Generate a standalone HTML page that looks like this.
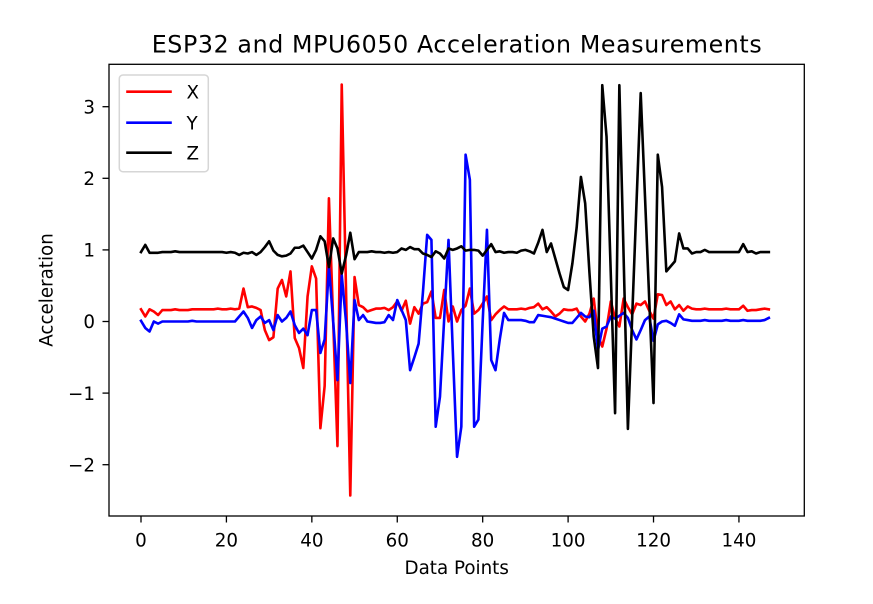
<!DOCTYPE html>
<html>
<head>
<meta charset="utf-8">
<style>
  html,body{margin:0;padding:0;background:#fff;}
  svg{display:block;}
  text{font-family:"DejaVu Sans","Liberation Sans",sans-serif;fill:#000;}
</style>
</head>
<body>
<svg width="873" height="604" viewBox="0 0 873 604" xmlns="http://www.w3.org/2000/svg">
  <rect x="0" y="0" width="873" height="604" fill="#fff"/>

  <!-- Title -->
  <text x="456.7" y="52.3" font-size="23.7" text-anchor="middle" textLength="610" lengthAdjust="spacing">ESP32 and MPU6050 Acceleration Measurements</text>

  <!-- Data -->
  <g transform="matrix(4.271,0,0,-71.6,141,321.5)" fill="none" stroke-linejoin="round" stroke-linecap="square">
    <polyline vector-effect="non-scaling-stroke" stroke="#ff0000" stroke-width="2.6" points="0,0.17 1,0.07 2,0.17 3,0.14 4,0.09 5,0.16 6,0.16 7,0.16 8,0.17 9,0.16 10,0.16 11,0.16 12,0.17 13,0.17 14,0.17 15,0.17 16,0.17 17,0.17 18,0.18 19,0.17 20,0.17 21,0.18 22,0.17 23,0.18 24,0.46 25,0.2 26,0.21 27,0.19 28,0.16 29,-0.12 30,-0.26 31,-0.22 32,0.46 33,0.58 34,0.35 35,0.7 36,-0.23 37,-0.37 38,-0.65 39,0.35 40,0.77 41,0.6 42,-1.49 43,-0.9 44,1.72 45,0 46,-1.74 47,3.31 48,0.45 49,-2.43 50,0.62 51,0.23 52,0.2 53,0.14 54,0.16 55,0.18 56,0.18 57,0.19 58,0.16 59,0.2 60,0.28 61,0.15 62,0.29 63,-0.03 64,0.2 65,0.11 66,0.25 67,0.27 68,0.42 69,0.05 70,0.05 71,0.44 72,0 73,0.21 74,0 75,0.16 76,0.22 77,0.46 78,0.11 79,0.16 80,0.25 81,0.35 82,0.02 83,0.1 84,0.16 85,0.21 86,0.17 87,0.17 88,0.17 89,0.18 90,0.17 91,0.19 92,0.2 93,0.25 94,0.17 95,0.2 96,0.14 97,0.07 98,0.11 99,0.17 100,0.16 101,0.16 102,0.18 103,0.07 104,0 105,0.11 106,0.32 107,-0.2 108,-0.35 109,-0.1 110,0.28 111,0.05 112,-0.07 113,0.32 114,0.2 115,0.1 116,0.25 117,0.23 118,0.28 119,0.15 120,0.04 121,0.38 122,0.37 123,0.23 124,0.28 125,0.17 126,0.23 127,0.15 128,0.21 129,0.18 130,0.17 131,0.17 132,0.18 133,0.17 134,0.17 135,0.17 136,0.17 137,0.18 138,0.17 139,0.17 140,0.17 141,0.22 142,0.15 143,0.16 144,0.16 145,0.17 146,0.18 147,0.17"/>
    <polyline vector-effect="non-scaling-stroke" stroke="#0000ff" stroke-width="2.6" points="0,0.01 1,-0.09 2,-0.14 3,0 4,-0.03 5,0 6,0 7,0 8,0 9,0 10,0 11,0 12,0.01 13,0 14,0 15,0 16,0 17,0 18,0 19,0 20,0 21,0 22,0 23,0.07 24,0.14 25,0.05 26,-0.09 27,0.02 28,0.07 29,-0.02 30,0.02 31,-0.12 32,0.09 33,0 34,0.05 35,0.14 36,-0.05 37,-0.16 38,-0.1 39,-0.19 40,0.16 41,0.16 42,-0.44 43,-0.25 44,0.77 45,0 46,-0.82 47,0.65 48,0 49,-0.86 50,0.3 51,0.02 52,0.09 53,0 54,-0.01 55,-0.02 56,-0.02 57,-0.01 58,0.09 59,0.02 60,0.3 61,0.16 62,0.02 63,-0.68 64,-0.5 65,-0.31 66,0.4 67,1.21 68,1.14 69,-1.47 70,-1.05 71,0.05 72,1.14 73,-0.4 74,-1.89 75,-1.47 76,2.33 77,1.98 78,-1.47 79,-1.37 80,0 81,1.28 82,-0.54 83,-0.68 84,-0.25 85,0.12 86,0.02 87,0.02 88,0.02 89,0.02 90,0.01 91,-0.01 92,-0.01 93,0.09 94,0.08 95,0.07 96,0.06 97,0.04 98,0.02 99,0 100,-0.02 101,-0.02 102,0.05 103,0.12 104,0.07 105,0.06 106,0.15 107,-0.4 108,-0.1 109,-0.07 110,0.07 111,0.04 112,0.08 113,0.12 114,0.05 115,-0.12 116,-0.25 117,-0.12 118,0.02 119,0.07 120,-0.27 121,-0.04 122,0 123,0.01 124,-0.02 125,-0.06 126,0.1 127,0.03 128,0.02 129,0.01 130,0.01 131,0.01 132,0.02 133,0.01 134,0.01 135,0.01 136,0.01 137,0.02 138,0.01 139,0.01 140,0.01 141,0.02 142,0.01 143,0.01 144,0.01 145,0.01 146,0.02 147,0.05"/>
    <polyline vector-effect="non-scaling-stroke" stroke="#000000" stroke-width="2.6" points="0,0.97 1,1.07 2,0.96 3,0.96 4,0.96 5,0.97 6,0.97 7,0.97 8,0.98 9,0.97 10,0.97 11,0.97 12,0.97 13,0.97 14,0.97 15,0.97 16,0.97 17,0.97 18,0.97 19,0.97 20,0.96 21,0.97 22,0.96 23,0.93 24,0.96 25,0.95 26,0.97 27,0.93 28,0.97 29,1.04 30,1.12 31,0.99 32,0.93 33,0.91 34,0.92 35,0.95 36,1.03 37,1.03 38,1.06 39,0.97 40,0.88 41,1.0 42,1.19 43,1.12 44,0.76 45,1.16 46,1.02 47,0.67 48,0.92 49,1.24 50,0.87 51,0.97 52,0.97 53,0.97 54,0.98 55,0.97 56,0.97 57,0.96 58,0.97 59,0.96 60,0.97 61,1.02 62,1.0 63,1.04 64,1.01 65,1.01 66,0.95 67,0.93 68,0.9 69,0.98 70,0.95 71,0.88 72,1.02 73,1.0 74,1.02 75,1.05 76,0.99 77,1.0 78,1.0 79,0.99 80,0.92 81,1.0 82,1.08 83,0.97 84,0.98 85,0.96 86,0.97 87,0.97 88,0.96 89,0.99 90,1.0 91,0.98 92,0.95 93,1.1 94,1.28 95,0.97 96,1.09 97,0.88 98,0.67 99,0.48 100,0.44 101,0.81 102,1.31 103,2.02 104,1.65 105,0.68 106,-0.21 107,-0.65 108,3.30 109,2.58 110,0.65 111,-1.28 112,3.30 113,0.9 114,-1.50 115,0.06 116,1.63 117,3.19 118,1.75 119,0.30 120,-1.14 121,2.33 122,1.88 123,0.70 124,0.77 125,0.84 126,1.23 127,1.02 128,1.02 129,0.95 130,0.97 131,0.97 132,1.0 133,0.97 134,0.97 135,0.97 136,0.97 137,0.97 138,0.97 139,0.97 140,0.97 141,1.08 142,0.97 143,0.98 144,0.95 145,0.97 146,0.97 147,0.97"/>
  </g>

  <!-- Axes frame -->
  <rect x="109" y="64.3" width="695.3" height="451.7" fill="none" stroke="#000" stroke-width="1.3"/>

  <!-- X ticks -->
  <g stroke="#000" stroke-width="1.3">
    <line x1="141" y1="516" x2="141" y2="522.5"/>
    <line x1="226.42" y1="516" x2="226.42" y2="522.5"/>
    <line x1="311.84" y1="516" x2="311.84" y2="522.5"/>
    <line x1="397.26" y1="516" x2="397.26" y2="522.5"/>
    <line x1="482.68" y1="516" x2="482.68" y2="522.5"/>
    <line x1="568.1" y1="516" x2="568.1" y2="522.5"/>
    <line x1="653.52" y1="516" x2="653.52" y2="522.5"/>
    <line x1="738.94" y1="516" x2="738.94" y2="522.5"/>
  </g>
  <g font-size="18.3" text-anchor="middle">
    <text x="141" y="546.5">0</text>
    <text x="226.42" y="546.5">20</text>
    <text x="311.84" y="546.5">40</text>
    <text x="397.26" y="546.5">60</text>
    <text x="482.68" y="546.5">80</text>
    <text x="568.1" y="546.5">100</text>
    <text x="653.52" y="546.5">120</text>
    <text x="738.94" y="546.5">140</text>
  </g>

  <!-- Y ticks -->
  <g stroke="#000" stroke-width="1.3">
    <line x1="102.5" y1="464.7" x2="109" y2="464.7"/>
    <line x1="102.5" y1="393.1" x2="109" y2="393.1"/>
    <line x1="102.5" y1="321.5" x2="109" y2="321.5"/>
    <line x1="102.5" y1="249.9" x2="109" y2="249.9"/>
    <line x1="102.5" y1="178.3" x2="109" y2="178.3"/>
    <line x1="102.5" y1="106.7" x2="109" y2="106.7"/>
  </g>
  <g font-size="18.3" text-anchor="end">
    <text x="95" y="471.4">−2</text>
    <text x="95" y="399.8">−1</text>
    <text x="95" y="328.2">0</text>
    <text x="95" y="256.6">1</text>
    <text x="95" y="185">2</text>
    <text x="95" y="113.4">3</text>
  </g>

  <!-- Axis labels -->
  <text x="456.7" y="574" font-size="18.3" text-anchor="middle">Data Points</text>
  <text transform="translate(52.3,290) rotate(-90)" font-size="18.3" text-anchor="middle">Acceleration</text>

  <!-- Legend -->
  <rect x="119.3" y="75" width="89" height="96.7" rx="3.6" ry="3.6" fill="#fff" fill-opacity="0.8" stroke="#d6d6d6" stroke-width="1.5"/>
  <g stroke-width="2.6" stroke-linecap="square">
    <line x1="127.5" y1="91.7" x2="170.5" y2="91.7" stroke="#ff0000"/>
    <line x1="127.5" y1="122.7" x2="170.5" y2="122.7" stroke="#0000ff"/>
    <line x1="127.5" y1="152.7" x2="170.5" y2="152.7" stroke="#000000"/>
  </g>
  <g font-size="18.3">
    <text x="186.5" y="98.4">X</text>
    <text x="186.5" y="129.4">Y</text>
    <text x="186.5" y="159.4">Z</text>
  </g>
</svg>
</body>
</html>
